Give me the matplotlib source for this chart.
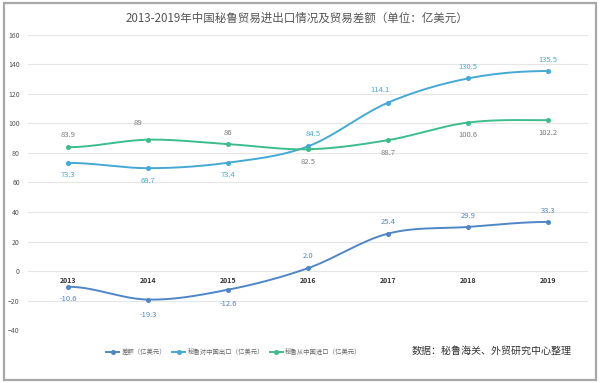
import numpy as np
import matplotlib.pyplot as plt
from matplotlib.patches import Rectangle
from matplotlib.lines import Line2D

plt.rcParams['font.family'] = ['Noto Sans CJK SC', 'DejaVu Sans']

years = ['2013', '2014', '2015', '2016', '2017', '2018', '2019']
diff = [-10.6, -19.3, -12.6, 2.0, 25.4, 29.9, 33.3]
export_cn = [73.3, 69.7, 73.4, 84.5, 114.1, 130.5, 135.5]
import_cn = [83.9, 89, 86, 82.5, 88.7, 100.6, 102.2]
names = ['差额（亿美元）', '秘鲁对中国出口（亿美元）', '秘鲁从中国进口（亿美元）']

# label offsets in points (dx, dy) for each point
off_export = [(0, -9), (0, -9), (0, -9), (4, 9), (-6, 9), (0, 8), (0, 8)]
off_import = [(0, 9), (-7, 12), (0, 8), (0, -9), (0, -9), (0, -9), (0, -9)]
off_diff = [(0, -9), (0, -11), (0, -10), (0, 9), (0, 8), (0, 8), (0, 8)]

c_diff = '#4f86c6'
c_export = '#45a9d4'
c_import = '#3dbd8c'


def smooth(x, y, n=30):
    # cubic hermite between the points, only to draw the soft line
    x = np.asarray(x, float)
    y = np.asarray(y, float)
    m = np.zeros_like(y)
    m[1:-1] = (y[2:] - y[:-2]) / 2.0
    xs, ys = [], []
    for i in range(len(x) - 1):
        t = np.linspace(0, 1, n)
        h00 = 2 * t**3 - 3 * t**2 + 1
        h10 = t**3 - 2 * t**2 + t
        h01 = -2 * t**3 + 3 * t**2
        h11 = t**3 - t**2
        xs.append(x[i] + t * (x[i + 1] - x[i]))
        ys.append(h00 * y[i] + h10 * m[i] + h01 * y[i + 1] + h11 * m[i + 1])
    return np.concatenate(xs), np.concatenate(ys)


fig = plt.figure(figsize=(6, 3.83), dpi=100)
ax = fig.add_axes([0.047, 0.138, 0.933, 0.771])

x = np.arange(len(years))
series = [(diff, c_diff, off_diff, c_diff),
          (export_cn, c_export, off_export, c_export),
          (import_cn, c_import, off_import, '#7a7a7a')]
for vals, col, offs, lcol in series:
    sx, sy = smooth(x, vals)
    ax.plot(sx, sy, color=col, lw=1.4, zorder=3)
    ax.plot(x, vals, 'o', color=col, ms=2.6, zorder=4)
    for xi, v, (dx, dy) in zip(x, vals, offs):
        txt = f'{v:g}' if v != 2.0 else '2.0'
        ax.annotate(txt, (xi, v), xytext=(dx, dy), textcoords='offset points',
                    ha='center', va='center', fontsize=5.5, color=lcol, zorder=5)

ax.set_xlim(-0.5, 6.5)
ax.set_ylim(-40, 160)
ax.set_yticks(range(-40, 161, 20))
ax.set_xticks([])
ax.tick_params(axis='y', length=0, labelsize=5, labelcolor='#555555', pad=6)
ax.grid(axis='y', color='#e6e6e6', lw=0.8)
ax.set_axisbelow(True)
for s in ax.spines.values():
    s.set_visible(False)

for xi, yr in zip(x, years):
    ax.annotate(yr, (xi, 0), xytext=(0, -7), textcoords='offset points',
                ha='center', va='center', fontsize=5, color='#333333',
                fontweight='bold')

fig.text(0.495, 0.953, '2013-2019年中国秘鲁贸易进出口情况及贸易差额（单位：亿美元）',
         ha='center', va='center', fontsize=8.3, color='#555555')

handles = [Line2D([0], [0], color=c, lw=1.4, marker='o', ms=2.6)
           for c in (c_diff, c_export, c_import)]
fig.legend(handles, names, loc='center', bbox_to_anchor=(0.39, 0.08), ncol=3,
           frameon=False, fontsize=4.6, labelcolor='#666666', handlelength=2.0,
           handletextpad=0.4, columnspacing=0.9)

fig.text(0.82, 0.085, '数据：秘鲁海关、外贸研究中心整理', ha='center', va='center',
         fontsize=7.2, color='#333333')

fig.patches.append(Rectangle((0.006, 0.008), 0.988, 0.984, transform=fig.transFigure,
                             fill=False, ec='#a8a8a8', lw=1.6))

fig.savefig('out.png', dpi=100)
